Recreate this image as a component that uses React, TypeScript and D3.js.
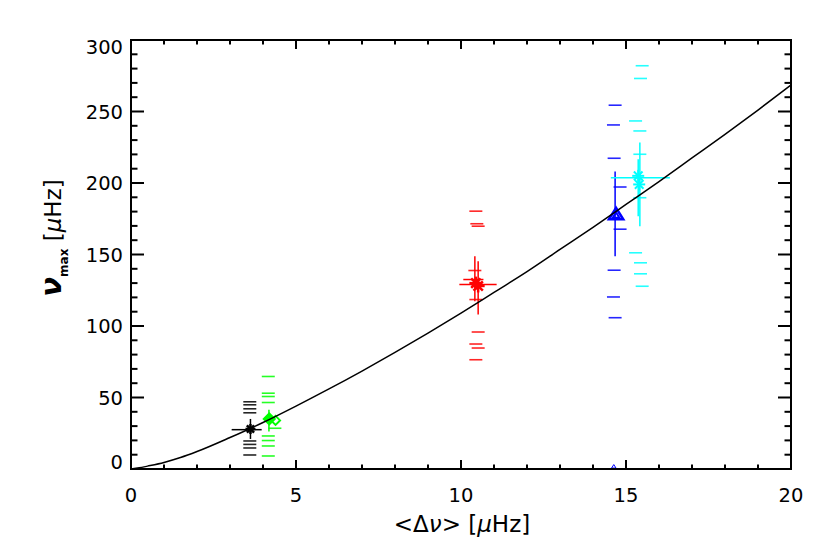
import React from 'react';
import * as d3 from 'd3';

// scaling relation
const curveDnu = [0, 0.25, 0.5, 1, 1.5, 2, 3, 4, 5, 6, 7, 8, 9, 10, 11, 12, 13, 14, 15, 16, 17, 18, 19, 20];
const curveNumax = [0, 0.8, 2, 4.6, 8, 12.2, 22, 32.5, 44, 56, 68.5, 81.5, 95, 109, 123.5, 138, 153.5, 169, 185, 201, 217.5, 234, 251, 268.5];

const xTicks = [0, 5, 10, 15, 20];
const yTicks = [0, 50, 100, 150, 200, 250, 300];

// [dnu, numax]
const blackSym = [[3.62, 28]];
const blackXBars = [[3.05, 3.96, 27.5]]; // [dnuLo, dnuHi, numax]
const blackYBars = [[3.62, 21, 35]]; // [dnu, numaxLo, numaxHi]
const blackDashes = [[3.6, 47], [3.6, 44.9], [3.6, 42.1], [3.6, 39.3], [3.6, 19.6], [3.6, 17.2], [3.6, 14.7], [3.6, 9.8]];

const greenSym = [[4.19, 35]];
const greenOpen = [[4.38, 34]];
const greenYBars = [[4.18, 26.2, 41.4]];
const greenDashes = [[4.16, 64.7], [4.16, 53], [4.16, 50.7], [4.16, 46.5], [4.36, 28.5], [4.16, 23.1], [4.16, 19.9], [4.16, 16.1], [4.16, 9.1]];

const redSym = [[10.45, 130], [10.52, 128]];
const redXBars = [[10.07, 10.68, 132.5], [9.95, 11.08, 129]];
const redYBars = [[10.42, 117.3, 148.8], [10.52, 108, 145.3]];
const redDashes = [[10.45, 180.3], [10.48, 171.5], [10.52, 169.8], [10.42, 138.8], [10.45, 118.5], [10.52, 95.8], [10.45, 87.4], [10.52, 84.6], [10.45, 76.4]];

const blueSym = [[14.7, 178]];
const blueLow = [[14.63, 1]];
const blueYBars = [[14.67, 148.8, 208]];
const blueDashes = [[14.67, 254.4], [14.62, 240.6], [14.64, 217.3], [14.82, 197.2], [14.82, 167.7], [14.64, 139], [14.62, 120.3], [14.67, 105.8]];

const cyanSym = [[15.37, 205], [15.4, 199]];
const cyanXBars = [[14.54, 16.33, 203.7]];
const cyanYBars = [[15.42, 169.8, 228.3], [15.37, 176.8, 216.6]];
const cyanDashes = [[15.49, 282], [15.44, 273.1], [15.29, 243.4], [15.42, 236.4], [15.42, 220.1], [15.42, 189.7], [15.29, 151.2], [15.44, 144.2], [15.44, 136.5], [15.49, 127.8]];

const W = 830;
const H = 553;
const margin = { top: 40, right: 39, bottom: 84, left: 131 };
const font = "'DejaVu Sans', sans-serif";

function Asterisk({ cx, cy, r, color, sw = 2 }) {
  const d = r * 0.72;
  return (
    <g stroke={color} strokeWidth={sw}>
      <line x1={cx - r} y1={cy} x2={cx + r} y2={cy} />
      <line x1={cx} y1={cy - r} x2={cx} y2={cy + r} />
      <line x1={cx - d} y1={cy - d} x2={cx + d} y2={cy + d} />
      <line x1={cx - d} y1={cy + d} x2={cx + d} y2={cy - d} />
    </g>
  );
}

function Diamond({ cx, cy, r, color, filled }) {
  const p = `M${cx},${cy - r}L${cx + r},${cy}L${cx},${cy + r}L${cx - r},${cy}Z`;
  return <path d={p} fill={filled ? color : 'none'} stroke={color} strokeWidth={2} />;
}

function Triangle({ cx, cy, r, color, sw }) {
  const p = `M${cx},${cy - r}L${cx + r * 1.1},${cy + r * 0.75}L${cx - r * 1.1},${cy + r * 0.75}Z`;
  return <path d={p} fill="none" stroke={color} strokeWidth={sw} />;
}

export default function App() {
  const iw = W - margin.left - margin.right;
  const ih = H - margin.top - margin.bottom;
  const x = d3.scaleLinear().domain([0, 20]).range([0, iw]);
  const y = d3.scaleLinear().domain([0, 300]).range([ih, 0]);

  const line = d3
    .line<number>()
    .x((d, i) => x(curveDnu[i]))
    .y((d) => y(d))
    .curve(d3.curveMonotoneX);

  const xMinor = d3.range(0, 21, 1);
  const yMinor = d3.range(0, 301, 10);

  const dashes = (arr, color, key) =>
    arr.map((d, i) => (
      <line key={key + i} x1={x(d[0]) - 6.5} x2={x(d[0]) + 6.5} y1={y(d[1])} y2={y(d[1])} stroke={color} strokeWidth={1.6} opacity={0.85} />
    ));
  const xBars = (arr, color, key) =>
    arr.map((d, i) => <line key={key + i} x1={x(d[0])} x2={x(d[1])} y1={y(d[2])} y2={y(d[2])} stroke={color} strokeWidth={1.5} />);
  const yBars = (arr, color, key) =>
    arr.map((d, i) => <line key={key + i} x1={x(d[0])} x2={x(d[0])} y1={y(d[1])} y2={y(d[2])} stroke={color} strokeWidth={1.5} />);

  return (
    <svg width={W} height={H} style={{ position: 'absolute', left: 0, top: 0, background: '#fff' }} fontFamily={font}>
      <g transform={`translate(${margin.left},${margin.top})`}>
        {/* data */}
        {dashes(blackDashes, '#000', 'bd')}
        {xBars(blackXBars, '#000', 'bx')}
        {yBars(blackYBars, '#000', 'by')}
        {blackSym.map((d, i) => (
          <g key={'bs' + i}>
            <Asterisk cx={x(d[0])} cy={y(d[1])} r={5} color="#000" sw={2.5} />
          </g>
        ))}

        {dashes(greenDashes, '#00ff00', 'gd')}
        {yBars(greenYBars, '#00ff00', 'gy')}
        {greenSym.map((d, i) => <Diamond key={'gs' + i} cx={x(d[0])} cy={y(d[1])} r={5.5} color="#00ff00" filled />)}
        {greenOpen.map((d, i) => <Diamond key={'go' + i} cx={x(d[0])} cy={y(d[1])} r={4.5} color="#00ff00" filled={false} />)}

        {dashes(redDashes, '#ff0000', 'rd')}
        {xBars(redXBars, '#ff0000', 'rx')}
        {yBars(redYBars, '#ff0000', 'ry')}
        {redSym.map((d, i) => <Asterisk key={'rs' + i} cx={x(d[0])} cy={y(d[1])} r={6.5} color="#ff0000" sw={2.5} />)}

        {dashes(blueDashes, '#0000ff', 'ud')}
        {yBars(blueYBars, '#0000ff', 'uy')}
        {blueSym.map((d, i) => (
          <g key={'us' + i}>
            <Triangle cx={x(d[0])} cy={y(d[1])} r={6.5} color="#0000ff" sw={2.5} />
            <Triangle cx={x(d[0])} cy={y(d[1]) + 1} r={3} color="#0000ff" sw={2} />
          </g>
        ))}
        {blueLow.map((d, i) => <Triangle key={'ul' + i} cx={x(d[0])} cy={y(d[1]) - 1} r={2} color="#0000ff" sw={1} />)}

        {dashes(cyanDashes, '#00ffff', 'cd')}
        {xBars(cyanXBars, '#00ffff', 'cx')}
        {yBars(cyanYBars, '#00ffff', 'cy')}
        {cyanSym.map((d, i) => <Asterisk key={'cs' + i} cx={x(d[0])} cy={y(d[1])} r={6} color="#00ffff" sw={2} />)}

        {/* relation */}
        <path d={line(curveNumax) || ''} fill="none" stroke="#000" strokeWidth={1.5} />

        {/* frame */}
        <rect x={0} y={0} width={iw} height={ih} fill="none" stroke="#000" strokeWidth={2} />
        {xMinor.map((v) => {
          const major = v % 5 === 0;
          const l = major ? 9 : 4.5;
          return (
            <g key={'xt' + v} stroke="#000" strokeWidth={2}>
              <line x1={x(v)} x2={x(v)} y1={ih} y2={ih - l} />
              <line x1={x(v)} x2={x(v)} y1={0} y2={l} />
            </g>
          );
        })}
        {yMinor.map((v) => {
          const major = v % 50 === 0;
          const l = major ? 13 : 6.5;
          return (
            <g key={'yt' + v} stroke="#000" strokeWidth={2}>
              <line x1={0} x2={l} y1={y(v)} y2={y(v)} />
              <line x1={iw} x2={iw - l} y1={y(v)} y2={y(v)} />
            </g>
          );
        })}
        {xTicks.map((v) => (
          <text key={'xl' + v} x={x(v)} y={ih + 33} textAnchor="middle" fontSize={19.5}>
            {v}
          </text>
        ))}
        {yTicks.map((v) => {
          const cy = Math.max(7, Math.min(ih - 7, y(v)));
          return (
            <text key={'yl' + v} x={-8} y={cy + 7} textAnchor="end" fontSize={19.5}>
              {v}
            </text>
          );
        })}
        <text x={iw / 2 + 1} y={ih + 63} textAnchor="middle" fontSize={23}>
          {'<Δ'}
          <tspan fontStyle="italic">ν</tspan>
          {'> ['}
          <tspan fontStyle="italic">μ</tspan>
          {'Hz]'}
        </text>
        <text transform={`translate(${-70},${198}) rotate(-90)`} textAnchor="middle" fontSize={23}>
          <tspan fontStyle="italic" fontSize={29} fontWeight="bold">ν</tspan>
          <tspan fontSize={12} fontWeight="bold" dy={7}>max</tspan>
          <tspan dy={-7}>{' ['}</tspan>
          <tspan fontStyle="italic">μ</tspan>
          <tspan>Hz]</tspan>
        </text>
      </g>
    </svg>
  );
}
